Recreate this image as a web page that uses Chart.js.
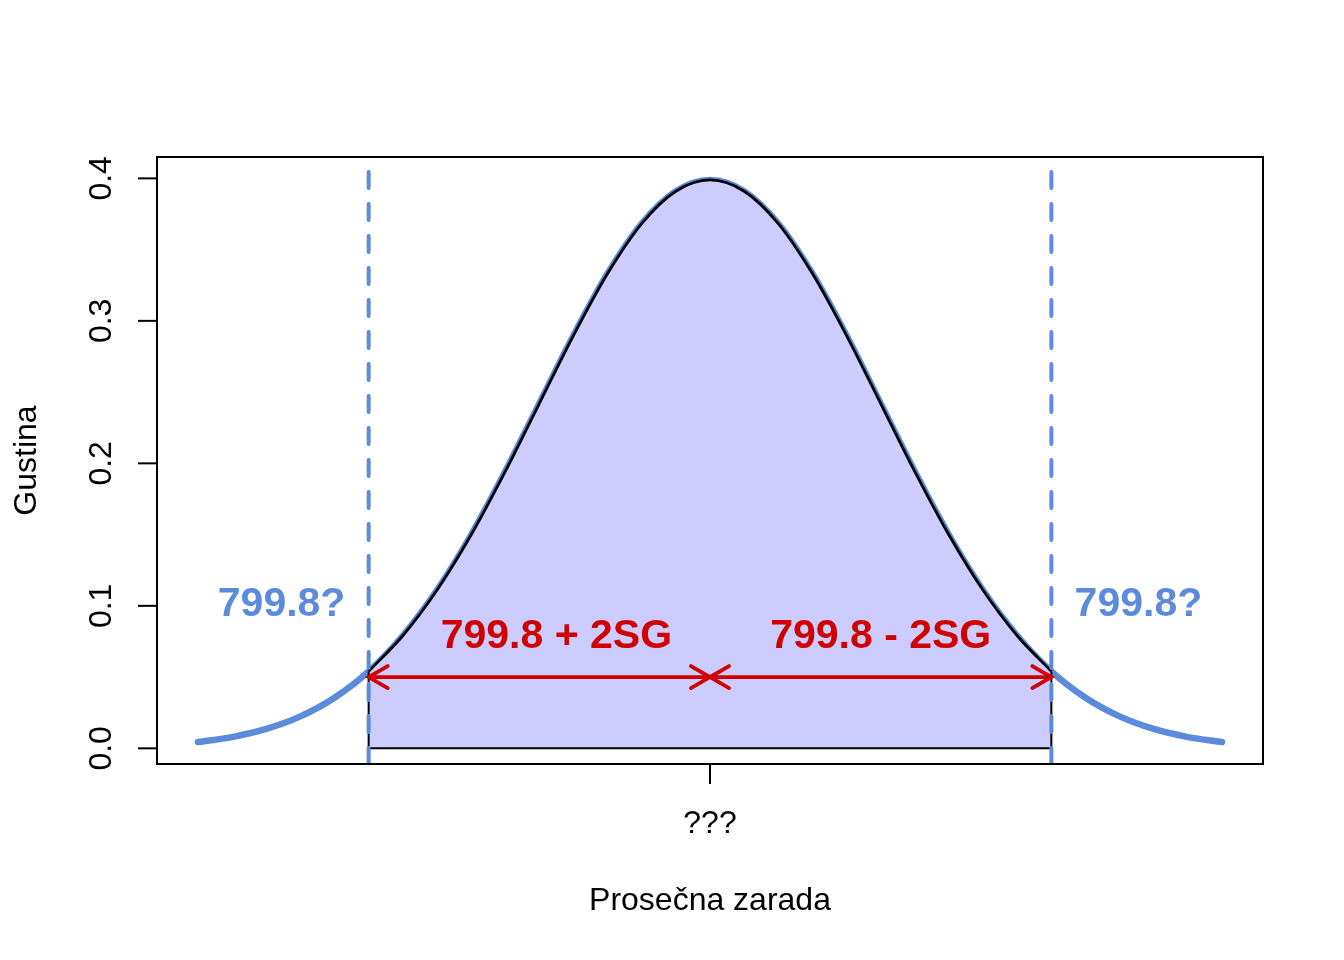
<!DOCTYPE html>
<html>
<head>
<meta charset="utf-8">
<script src="https://cdn.jsdelivr.net/npm/chart.js@4"></script>
<style>
  html, body { margin: 0; padding: 0; background: #fff; }
  #wrap { width: 1344px; height: 960px; position: relative; }
</style>
</head>
<body>
<div id="wrap"><canvas id="myChart"></canvas></div>
<script>
// density curve (standard normal shape)
var densityX = [-3.0, -2.8, -2.6, -2.4, -2.2, -2.0, -1.8, -1.6, -1.4, -1.2, -1.0, -0.8, -0.6, -0.4, -0.2, 0.0,
                0.2, 0.4, 0.6, 0.8, 1.0, 1.2, 1.4, 1.6, 1.8, 2.0, 2.2, 2.4, 2.6, 2.8, 3.0];
var densityY = [0.0044, 0.0079, 0.0136, 0.0224, 0.0355, 0.0540, 0.0790, 0.1109, 0.1497, 0.1942, 0.2420, 0.2897, 0.3332, 0.3683, 0.3910, 0.3989,
                0.3910, 0.3683, 0.3332, 0.2897, 0.2420, 0.1942, 0.1497, 0.1109, 0.0790, 0.0540, 0.0355, 0.0224, 0.0136, 0.0079, 0.0044];

var shadeFrom = -2;
var shadeTo = 2;
var arrowY = 0.05;
var xTickValues = [0];
var xTickLabels = ["???"];
var yTickValues = [0, 0.1, 0.2, 0.3, 0.4];
var yTickLabels = ["0.0", "0.1", "0.2", "0.3", "0.4"];
var xLimits = [-3.24, 3.24];
var yLimits = [-0.011, 0.415];

var blue = "#5c8bdc";
var red = "#d00000";
var fontFamily = "'Liberation Sans', Arial, sans-serif";

// labels: text, x, y, colour
var notes = [
  { text: "799.8?", x: -2.51, y: 0.103, color: blue },
  { text: "799.8?", x: 2.51, y: 0.103, color: blue },
  { text: "799.8 + 2SG", x: -0.9, y: 0.081, color: red },
  { text: "799.8 - 2SG", x: 1.0, y: 0.081, color: red }
];

function pts(xs, ys) {
  return xs.map(function (x, i) { return { x: x, y: ys[i] }; });
}
function densityAt(x) {
  return densityY[densityX.indexOf(x)];
}

var curve = pts(densityX, densityY);
var shaded = curve.filter(function (p) { return p.x >= shadeFrom && p.x <= shadeTo; });
var sides = [
  { x: shadeFrom, y: densityAt(shadeFrom) }, { x: shadeFrom, y: 0 },
  { x: shadeTo, y: 0 }, { x: shadeTo, y: densityAt(shadeTo) }
];

// draw box, axes, arrow heads and texts
var extras = {
  id: "extras",
  afterDraw: function (chart) {
    var c = chart.ctx;
    var xs = chart.scales.x, ys = chart.scales.y;
    var a = chart.chartArea;
    c.save();

    // arrow heads
    c.strokeStyle = red;
    c.lineWidth = 3.8;
    c.lineCap = "round";
    var L = 22, ang = Math.PI / 6;
    function head(xv, dir) {
      var px = xs.getPixelForValue(xv), py = ys.getPixelForValue(arrowY);
      c.beginPath();
      c.moveTo(px - dir * L * Math.cos(ang), py - L * Math.sin(ang));
      c.lineTo(px, py);
      c.lineTo(px - dir * L * Math.cos(ang), py + L * Math.sin(ang));
      c.stroke();
    }
    head(shadeFrom, -1);
    head(0, 1);
    head(0, -1);
    head(shadeTo, 1);

    // texts
    var fs = 41;
    c.font = "bold " + fs + "px " + fontFamily;
    c.textAlign = "center";
    c.textBaseline = "alphabetic";
    notes.forEach(function (n) {
      c.fillStyle = n.color;
      c.fillText(n.text, xs.getPixelForValue(n.x), ys.getPixelForValue(n.y) + 0.358 * fs);
    });

    // box
    c.strokeStyle = "#000";
    c.lineWidth = 2;
    c.lineCap = "butt";
    c.strokeRect(a.left, a.top, a.right - a.left, a.bottom - a.top);

    c.font = "32px " + fontFamily;
    c.fillStyle = "#000";

    // x axis
    xTickValues.forEach(function (v, i) {
      var px = xs.getPixelForValue(v);
      c.beginPath();
      c.moveTo(px, a.bottom);
      c.lineTo(px, a.bottom + 20);
      c.stroke();
      c.fillText(xTickLabels[i], px, 833);
    });
    c.fillText("Prosečna zarada", (a.left + a.right) / 2, 910);

    // y axis
    yTickValues.forEach(function (v, i) {
      var py = ys.getPixelForValue(v);
      c.beginPath();
      c.moveTo(a.left - 19, py);
      c.lineTo(a.left, py);
      c.stroke();
      c.save();
      c.translate(110.5, py);
      c.rotate(-Math.PI / 2);
      c.fillText(yTickLabels[i], 0, 0);
      c.restore();
    });
    c.save();
    c.translate(35.5, (a.top + a.bottom) / 2);
    c.rotate(-Math.PI / 2);
    c.fillText("Gustina", 0, 0);
    c.restore();

    c.restore();
  }
};

var ctx = document.getElementById("myChart").getContext("2d");
var myChart = new Chart(ctx, {
  type: "scatter",
  data: {
    datasets: [
      {
        data: curve, showLine: true, order: 6,
        borderColor: blue, borderWidth: 6.5, borderCapStyle: "round",
        cubicInterpolationMode: "monotone", pointRadius: 0, fill: false
      },
      {
        data: shaded, showLine: true, order: 5,
        borderColor: "#000", borderWidth: 2.8, backgroundColor: "#ccccff",
        cubicInterpolationMode: "monotone", pointRadius: 0, fill: { value: 0 }
      },
      {
        data: sides, showLine: true, order: 4,
        borderColor: "#000", borderWidth: 2, tension: 0, pointRadius: 0, fill: false
      },
      {
        data: [{ x: shadeFrom, y: yLimits[0] }, { x: shadeFrom, y: yLimits[1] }],
        showLine: true, order: 3, clip: 0,
        borderColor: blue, borderWidth: 4, borderDash: [16, 16], borderCapStyle: "round",
        pointRadius: 0, fill: false
      },
      {
        data: [{ x: shadeTo, y: yLimits[0] }, { x: shadeTo, y: yLimits[1] }],
        showLine: true, order: 3, clip: 0,
        borderColor: blue, borderWidth: 4, borderDash: [16, 16], borderCapStyle: "round",
        pointRadius: 0, fill: false
      },
      {
        data: [{ x: shadeFrom, y: arrowY }, { x: shadeTo, y: arrowY }],
        showLine: true, order: 2,
        borderColor: red, borderWidth: 3.8, pointRadius: 0, fill: false
      }
    ]
  },
  options: {
    responsive: true,
    maintainAspectRatio: false,
    animation: false,
    devicePixelRatio: 1,
    layout: { padding: { left: 157, top: 157, right: 81, bottom: 196 } },
    plugins: { legend: { display: false }, tooltip: { enabled: false } },
    scales: {
      x: { type: "linear", min: xLimits[0], max: xLimits[1], display: false },
      y: { type: "linear", min: yLimits[0], max: yLimits[1], display: false }
    }
  },
  plugins: [extras]
});
</script>
</body>
</html>
